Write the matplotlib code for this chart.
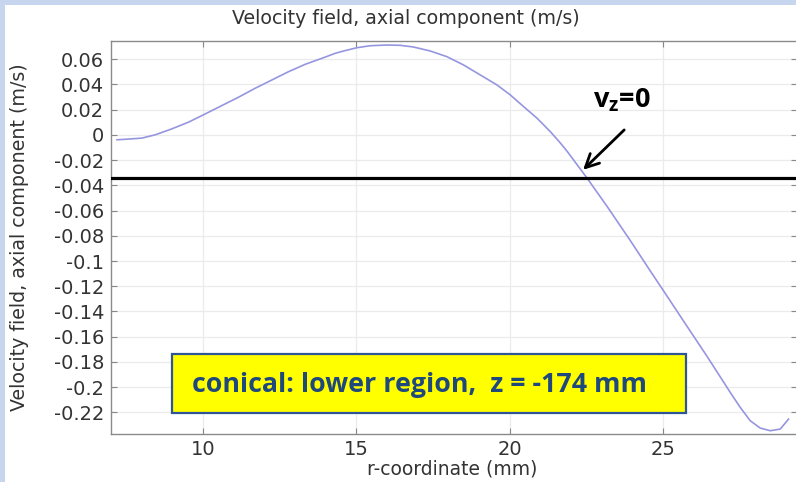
import matplotlib
matplotlib.use("Agg")
import matplotlib.pyplot as plt
from matplotlib.patches import Rectangle

# ---- data ----
r_mm = [7.196, 7.574, 8.011, 8.444, 8.989, 9.530, 9.967, 10.401, 10.834, 11.160,
        11.705, 12.249, 12.791, 13.335, 13.880, 14.313, 14.584, 15.021, 15.455,
        15.999, 16.433, 16.866, 17.411, 17.955, 18.497, 19.041, 19.585, 20.019,
        20.453, 20.890, 21.323, 21.650, 21.868, 22.520, 23.172, 23.932, 24.584,
        25.236, 25.670, 26.433, 27.193, 27.519, 27.845, 28.171, 28.497, 28.823,
        29.094]
vz = [-0.00384, -0.00329, -0.00250, 0.00011, 0.00486, 0.01016, 0.01538, 0.02068,
      0.02598, 0.02994, 0.03706, 0.04362, 0.05019, 0.05604, 0.06079, 0.06475,
      0.06657, 0.06918, 0.07076, 0.07131, 0.07108, 0.06973, 0.06657, 0.06206,
      0.05549, 0.04758, 0.03967, 0.03176, 0.02250, 0.01332, 0.00270, -0.00630,
      -0.01280, -0.03410, -0.05650, -0.08370, -0.10780, -0.13165, -0.14760,
      -0.17550, -0.20420, -0.21610, -0.22670, -0.23250, -0.23460, -0.23330,
      -0.22540]
ref_line = -0.0338
xticks = [10, 15, 20, 25]
yticks = [0.06, 0.04, 0.02, 0, -0.02, -0.04, -0.06, -0.08, -0.1, -0.12, -0.14,
          -0.16, -0.18, -0.2, -0.22]
ytick_labels = ["0.06", "0.04", "0.02", "0", "-0.02", "-0.04", "-0.06", "-0.08",
                "-0.1", "-0.12", "-0.14", "-0.16", "-0.18", "-0.2", "-0.22"]
arrow_tip = (22.33, -0.0292)
arrow_tail = (23.8, 0.0055)

W, H = 796, 482
fig = plt.figure(figsize=(W / 100, H / 100), dpi=100)
fig.patch.set_facecolor("#c8d5ef")
fig.patches.append(Rectangle((5 / W, 0), 1, 1 - 5 / H, transform=fig.transFigure,
                             facecolor="white", edgecolor="none", zorder=-5))

ax = fig.add_axes([111 / W, 48 / H, 686 / W, 393 / H])
ax.set_zorder(1)
ax.set_facecolor("white")
ax.set_xlim(7.0, 29.37)
ax.set_ylim(-0.2372, 0.0745)

ax.plot(r_mm, vz, color="#9696e0", lw=1.2, zorder=3, solid_joinstyle="round")
ax.axhline(ref_line, color="black", lw=2.3, zorder=4)

ax.set_xticks(xticks)
ax.set_xticklabels([str(t) for t in xticks])
ax.set_yticks(yticks)
ax.set_yticklabels(ytick_labels)
ax.grid(True, color="#ebebeb", lw=0.9)
ax.set_axisbelow(True)
ax.tick_params(axis="both", direction="in", length=4, color="#888888",
               labelsize=14, labelcolor="#333333", top=True, right=True)
ax.tick_params(axis="y", pad=5)
ax.tick_params(axis="x", pad=4)
for s in ax.spines.values():
    s.set_color("#8a8a8a")
    s.set_linewidth(1.0)

ax.set_xlabel("r-coordinate (mm)", fontsize=13.5, color="#333333")
ax.xaxis.set_label_coords(0.497, -0.09)
ax.xaxis.label.set_va("center")
ax.set_ylabel("Velocity field, axial component (m/s)", fontsize=13.7,
              color="#333333")
ax.yaxis.set_label_coords(-0.12, 0.5)
fig.text(406 / W, 1 - 18 / H, "Velocity field, axial component (m/s)",
         ha="center", va="center", fontsize=13.7, color="#333333")

# annotation v_z = 0
plt.rcParams["mathtext.fontset"] = "custom"
plt.rcParams["mathtext.rm"] = "Open Sans:bold"
plt.rcParams["mathtext.it"] = "Open Sans:bold"
ax.annotate("", xy=arrow_tip, xytext=arrow_tail,
            arrowprops=dict(arrowstyle="->", color="black", lw=2.0,
                            mutation_scale=24), zorder=6)
fig.text(593 / W, 1 - 107 / H, r"v$_\mathrm{z}$=0", ha="left", va="baseline",
         fontsize=19.5, fontweight="bold", family="Open Sans", color="black",
         zorder=10)

# yellow label box
fig.patches.append(Rectangle((172 / W, 1 - 413 / H), 514 / W, 59 / H,
                             transform=fig.transFigure, facecolor="#ffff00",
                             edgecolor="#2f5597", lw=1.6, zorder=5))
fig.text(192 / W, 1 - 385 / H, "conical: lower region,  z = -174 mm",
         ha="left", va="center", fontsize=19.3, fontweight="bold",
         family="Open Sans", color="#1f497d", zorder=6)

fig.savefig("out.png", dpi=100)
